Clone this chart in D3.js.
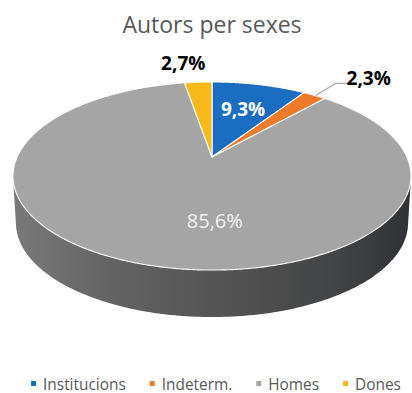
<!DOCTYPE html>
<html>
<head>
<meta charset="utf-8">
<script src="https://cdn.jsdelivr.net/npm/d3@7"></script>
<style>
  html, body { margin: 0; padding: 0; background: #ffffff; }
  svg { display: block; }
  text { font-family: "Open Sans", "Noto Sans", sans-serif; }
</style>
</head>
<body>
<svg id="chart" width="412" height="393"></svg>
<script>
// Chart data
const title = "Autors per sexes";
const categories = ["Institucions", "Indeterm.", "Homes", "Dones"];
const values = [9.3, 2.3, 85.6, 2.7];
const colors = ["#1b6dc1", "#ef7b2a", "#a5a5a5", "#f7b819"];

const W = 412, H = 393;
const svg = d3.select("#chart");

// Perspective camera for the top face of a unit disc
const cam = { cx: 212, cy: 157, f: 854.5, dist: 4.384, tilt: Math.asin(0.4628) };
const sinA = Math.sin(cam.tilt), cosA = Math.cos(cam.tilt);
const depthPx = 47;      // screen thickness of the disc
const baseShrink = 0.985; // bottom rim slightly narrower
function project(theta, r) {
  const X = r * Math.sin(theta), Z = -r * Math.cos(theta);
  const depth = cam.dist - Z * cosA;
  const u = -Z * sinA;
  return [cam.cx + cam.f * X / depth, cam.cy - cam.f * u / depth];
}
function projectBase(theta) {
  const p = project(theta, 1);
  return [cam.cx + (p[0] - cam.cx) * baseShrink, p[1] + depthPx];
}

const defs = svg.append("defs");
const sideGrad = defs.append("linearGradient")
  .attr("id", "sideGrad").attr("gradientUnits", "userSpaceOnUse")
  .attr("x1", 12).attr("x2", 412).attr("y1", 0).attr("y2", 0);
[["0", "#7a7a7a"], ["0.25", "#636363"], ["0.55", "#525252"], ["0.8", "#434445"], ["1", "#2f3235"]]
  .forEach(([o, c]) => sideGrad.append("stop").attr("offset", o).attr("stop-color", c));

// Title
svg.append("text")
  .attr("x", 212).attr("y", 33)
  .attr("text-anchor", "middle")
  .attr("font-size", 23)
  .attr("fill", "#595959")
  .text(title);

// Pie layout (clockwise from 12 o'clock)
const pie = d3.pie().sort(null).value(d => d);
const arcs = pie(values);

// Cylinder side: convex hull of the projected top and bottom rims
const full = d3.range(0, 2 * Math.PI, Math.PI / 180);
const rimPts = full.map(a => project(a, 1)).concat(full.map(a => projectBase(a)));
const hull = d3.polygonHull(rimPts);
svg.append("path")
  .attr("d", "M" + hull.map(p => p.join(",")).join("L") + "Z")
  .attr("fill", "url(#sideGrad)");

// Top face slices
const line = d3.line();
function slicePath(d) {
  const n = Math.max(2, Math.ceil((d.endAngle - d.startAngle) / (Math.PI / 360)));
  const pts = [project(0, 0)];
  for (let i = 0; i <= n; i++) {
    const a = d.startAngle + (d.endAngle - d.startAngle) * i / n;
    pts.push(project(a, 1));
  }
  return line(pts) + "Z";
}
svg.append("g").selectAll("path")
  .data(arcs)
  .join("path")
  .attr("d", slicePath)
  .attr("fill", (d, i) => colors[i])
  .attr("stroke", "#ffffff")
  .attr("stroke-width", 1.1)
  .attr("stroke-linejoin", "round");

// Data labels
const fmt = v => d3.format(".1f")(v).replace(".", ",") + "%";
const labelLayout = [
  { inside: true, r: 0.62, shift: 0, color: "#ffffff", weight: "bold", size: 19 },
  { inside: false, dx: 54, dy: -17, color: "#000000", weight: "bold", size: 19 },
  { inside: true, r: 0.62, shift: -0.3, color: "#f2f2f2", weight: "normal", size: 20 },
  { inside: false, dx: -15, dy: -19, color: "#000000", weight: "bold", size: 19 }
];
arcs.forEach((d, i) => {
  const L = labelLayout[i];
  const mid = (d.startAngle + d.endAngle) / 2;
  let pos;
  if (L.inside) {
    pos = project(mid + L.shift, L.r);
  } else {
    const rim = project(mid, 1);
    pos = [rim[0] + L.dx, rim[1] + L.dy];
    if (i === 1) {
      // leader line from the rim to the label
      svg.append("path")
        .attr("d", line([[rim[0] + 1, rim[1]], [rim[0] + 21, rim[1] - 12], [rim[0] + 33, rim[1] - 12]]))
        .attr("fill", "none")
        .attr("stroke", "#a6a6a6")
        .attr("stroke-width", 1.2);
    }
  }
  svg.append("text")
    .attr("x", pos[0]).attr("y", pos[1])
    .attr("text-anchor", "middle")
    .attr("dominant-baseline", "central")
    .attr("font-size", L.size)
    .attr("font-weight", L.weight)
    .attr("fill", L.color)
    .text(fmt(values[i]));
});

// Legend
const legend = svg.append("g");
let lx = 0;
categories.forEach((c, i) => {
  const g = legend.append("g").attr("transform", `translate(${lx},0)`);
  g.append("rect").attr("x", 0).attr("y", -3).attr("width", 5).attr("height", 5).attr("fill", colors[i]);
  const t = g.append("text").attr("x", 12).attr("y", 5.5)
    .attr("font-size", 15.4).attr("fill", "#595959").text(c);
  lx += 12 + t.node().getComputedTextLength() + 24;
});
const legendWidth = lx - 24;
legend.attr("transform", `translate(${216 - legendWidth / 2},384)`);
</script>
</body>
</html>
